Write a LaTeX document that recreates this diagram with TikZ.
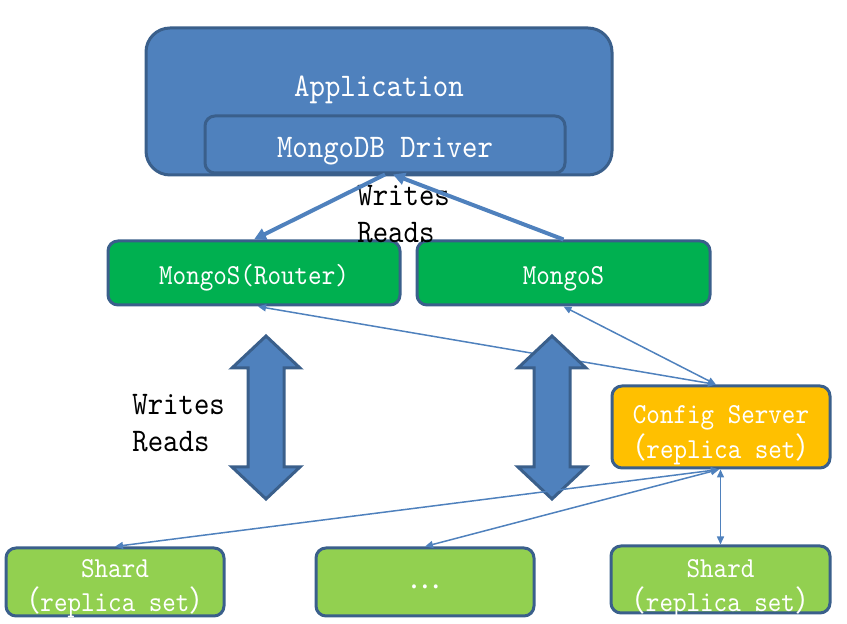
\documentclass[tikz,border=0pt]{standalone}
\usepackage{fontspec}
\usetikzlibrary{arrows.meta}
\newfontfamily\cnmono{lmmono10-regular.otf}[FakeStretch=0.89]
\newfontfamily\cjk{Noto Sans CJK SC}
\definecolor{appblue}{HTML}{4F81BD}
\definecolor{edgeblue}{HTML}{3A5F8B}
\definecolor{mongosgreen}{HTML}{00B050}
\definecolor{shardgreen}{HTML}{92D050}
\definecolor{configgold}{HTML}{FFC000}
\newcommand{\fwl}{{\cjk （}}
\newcommand{\fwr}{{\cjk ）}}
% text block whose last baseline sits #1 above the node centre
\newcommand{\boxtext}[2]{\raisebox{#1}[0pt][0pt]{\begin{tabular}[b]{@{}c@{}}#2\end{tabular}}}

\tikzset{
  bigfont/.style={font=\cnmono\fontsize{16.5}{18.5}\selectfont},
  smallfont/.style={font=\cnmono\fontsize{14.5}{15.8}\selectfont},
  box/.style={draw=edgeblue, line width=1.5pt, rounded corners=5pt,
    text=white, inner sep=0pt},
  rwlabel/.style={bigfont, text=black, align=left, inner sep=0pt, anchor=west},
  fatlink/.style={draw=appblue, line width=2pt, -{Triangle[length=6pt,width=6pt]}},
  thinlink/.style={draw=appblue, line width=0.75pt,
    {Triangle[length=4pt,width=3.5pt]}-{Triangle[length=4pt,width=3.5pt]}},
  fatarrow/.style={fill=appblue, draw=edgeblue, line width=1.5pt, line join=miter}
}

\begin{document}
\begin{tikzpicture}[x=0.5pt, y=-0.5pt]
\useasboundingbox (0,0) rectangle (847,624);

% application and driver
\node[box, fill=appblue, rounded corners=12pt, minimum width=233pt, minimum height=73.5pt,
  label={[bigfont, text=white, inner sep=0pt]center:\boxtext{2.25pt}{Application}}] (app) at (379,101.5) {};
\node[box, fill=appblue, bigfont, minimum width=180pt, minimum height=28.5pt] (driver) at (385,144.5) {\boxtext{-6.75pt}{MongoDB Driver}};

% routers
\node[box, fill=mongosgreen, smallfont, minimum width=146pt, minimum height=32pt] (router) at (254,273) {\boxtext{-6pt}{MongoS(Router)}};
\node[box, fill=mongosgreen, smallfont, minimum width=146.5pt, minimum height=32pt] (mongos) at (563.5,273) {\boxtext{-6pt}{MongoS}};

% config server
\node[box, fill=configgold, smallfont, minimum width=109pt, minimum height=41pt] (config) at (721,427) {\boxtext{-15.65pt}{Config Server\\\fwl replica set\fwr}};

% shards
\node[box, fill=shardgreen, smallfont, minimum width=109pt, minimum height=34pt] (shardA) at (115,582) {\boxtext{-15pt}{Shard\\\fwl replica set\fwr}};
\node[box, fill=shardgreen, smallfont, minimum width=109pt, minimum height=34pt] (dots) at (425,582) {\boxtext{-3.5pt}{\cjk …}};
\node[box, fill=shardgreen, smallfont, minimum width=109.5pt, minimum height=33.5pt] (shardC) at (720.5,579.5) {\boxtext{-16.25pt}{Shard\\\fwl replica set\fwr}};

% labels
\node[rwlabel] (rwtop) at (357,214) {Writes\\Reads};
\node[rwlabel] (rwleft) at (132,423) {Writes\\Reads};

% driver links
\draw[fatlink] (driver.south) -- (router.north);
\draw[fatlink] (mongos.north) -- ([xshift=4pt]driver.south);

% config links to routers
\draw[thinlink] ([xshift=2pt]router.south) -- ([xshift=-2.5pt]config.north);
\draw[thinlink] (mongos.south) -- ([xshift=-2.5pt]config.north);

% big writes/reads arrows
\foreach \cx in {266,552}
  \draw[fatarrow] (\cx,336) -- (\cx+34,368) -- (\cx+18,368) -- (\cx+18,467) -- (\cx+34,467)
    -- (\cx,499) -- (\cx-34,467) -- (\cx-18,467) -- (\cx-18,368) -- (\cx-34,368) -- cycle;

% config links to shards
\draw[thinlink] (shardA.north) -- ([xshift=-1pt]config.south);
\draw[thinlink] (dots.north) -- ([xshift=-1pt]config.south);
\draw[thinlink] (shardC.north) -- (shardC.north |- config.south);
\end{tikzpicture}
\end{document}
